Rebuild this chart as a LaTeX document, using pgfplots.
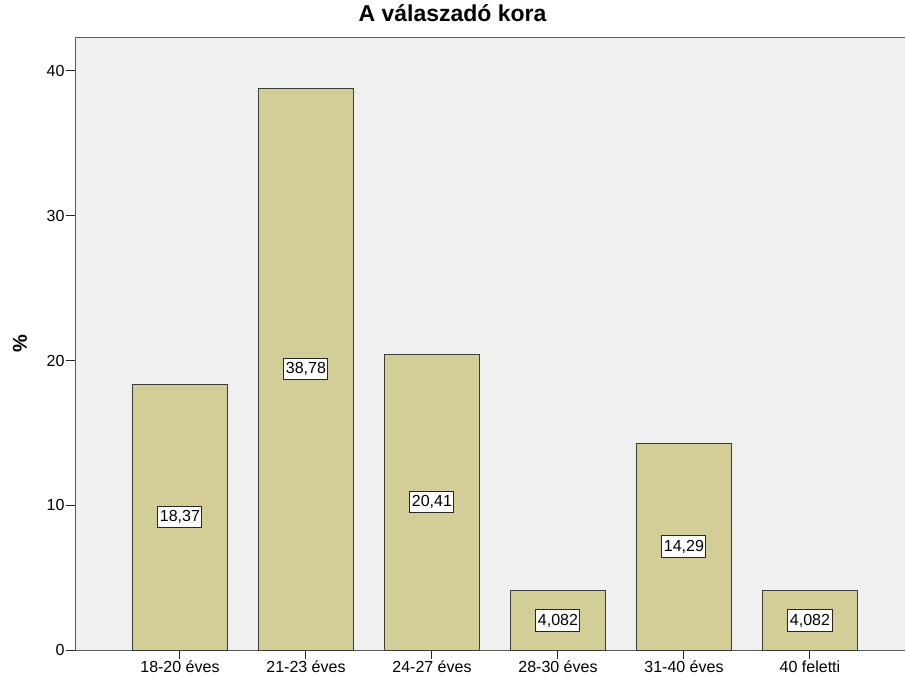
\documentclass[border=0pt]{standalone}
\usepackage{pgfplots}
\pgfplotsset{compat=1.18}
\usepackage{fontspec}
\setmainfont{Liberation Sans}
\definecolor{bg}{HTML}{F0F0F0}
\definecolor{barc}{HTML}{D3CE98}
\definecolor{edge}{HTML}{3C3C3C}
\begin{document}
\begin{tikzpicture}[x=1pt,y=1pt]
\useasboundingbox (0,0) rectangle (905,681);
\clip (0,0) rectangle (905,681);
\begin{axis}[
  at={(75pt,31pt)}, anchor=south west,
  scale only axis, width=833pt, height=612pt,
  xmin=-0.833, xmax=5.778, ymin=0, ymax=42.28,
  axis background/.style={fill=bg},
  axis line style={draw=black!65, line width=1pt},
  xtick={0,1,2,3,4,5},
  xticklabels={18-20 éves,21-23 éves,24-27 éves,28-30 éves,31-40 éves,40 feletti},
  ytick={0,10,20,30,40},
  xtick pos=bottom, ytick pos=left,
  tick align=outside, major tick length=9pt,
  tick style={draw=black!85, line width=1pt},
  /pgf/number format/assume math mode=true,
  ticklabel style={font=\fontsize{16}{18}\selectfont},
  xticklabel style={yshift=2pt},
  yticklabel style={xshift=2pt},
  title={A válaszadó kora},
  title style={font=\bfseries\fontsize{23}{26}\selectfont, at={(rel axis cs:0.4532,1)}, anchor=base, yshift=10pt},
  ylabel={\%},
  ylabel style={font=\bfseries\fontsize{20}{22}\selectfont, at={(axis description cs:-0.066,0.5)}, anchor=center},
  clip=false,
]
\addplot[ybar, bar width=95pt, fill=barc, draw=edge, line width=1pt]
  coordinates {(0,18.37) (1,38.78) (2,20.41) (3,4.082) (4,14.29) (5,4.082)};
\addplot[only marks, mark=none, nodes near coords, point meta=explicit symbolic,
  nodes near coords style={anchor=center, draw=black!85, fill=white, line width=1pt,
    inner xsep=2pt, inner ysep=4pt, font=\fontsize{16}{18}\selectfont}]
  coordinates {(0,9.185)[18,37] (1,19.39)[38,78] (2,10.205)[20,41] (3,2.041)[4,082] (4,7.145)[14,29] (5,2.041)[4,082]};
\end{axis}
\end{tikzpicture}
\end{document}
